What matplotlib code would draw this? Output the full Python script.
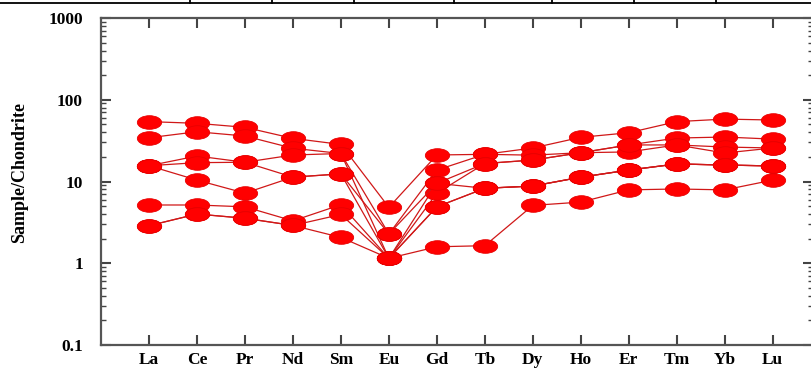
import matplotlib
matplotlib.use("Agg")
import matplotlib.pyplot as plt
from matplotlib.path import Path
from matplotlib.lines import Line2D
from matplotlib.ticker import LogLocator, FixedLocator, NullFormatter, FixedFormatter

# ---------------------------------------------------------------------------
# Data (chondrite-normalised REE)
# ---------------------------------------------------------------------------
elements = ["La", "Ce", "Pr", "Nd", "Sm", "Eu", "Gd",
            "Tb", "Dy", "Ho", "Er", "Tm", "Yb", "Lu"]

s1 = [54, 51.5, 46, 33.7, 28.4, 4.83, 21.1, 21.5, 25.7, 34.7, 39.5, 54, 58, 56.5]
s2 = [34.3, 40.6, 36, 25.5, 22, 2.28, 13.8, 21.5, 21.0, 22.5, 28, 34, 35, 33]
s3 = [15.6, 20.5, 17.2, 21.1, 22, 1.15, 9.5, 16.6, 18.3, 22.5, 23, 28, 26.4, 25.7]
s4 = [15.6, 17.0, 17.2, 11.3, 12.4, 1.15, 7.2, 16.6, 18.3, 22.5, 28, 28, 22.3, 25.7]
s5 = [15.6, 10.4, 7.2, 11.3, 12.4, 2.28, 9.5, 8.26, 8.8, 11.3, 13.8, 16.4, 15.9, 15.5]
s6 = [5.16, 5.16, 4.9, 3.3, 5.2, 1.15, 4.9, 8.26, 8.8, 11.3, 13.8, 16.4, 15.9, 15.5]
s7 = [2.88, 4.0, 3.55, 2.9, 3.95, 1.15, 4.9, 8.26, 8.8, 11.3, 13.8, 16.4, 15.9, 15.5]
s8 = [2.88, 4.0, 3.55, 2.9, 2.07, 1.15, 1.59, 1.64, 5.1, 5.6, 7.9, 8.1, 7.9, 10.4]
samples = [s1, s2, s3, s4, s5, s6, s7, s8]

y_ticks = [0.1, 1, 10, 100, 1000]
y_tick_labels = ["0.1", "1", "10", "100", "1000"]

# ---------------------------------------------------------------------------
# Figure
# ---------------------------------------------------------------------------
W, H = 812, 377
fig = plt.figure(figsize=(W / 100, H / 100), dpi=100)
ax = fig.add_axes([101 / W, 1 - 345 / H, 712.5 / W, 327 / H])

# ellipse marker (wider than tall)
circ = Path.unit_circle()
ellipse = Path(circ.vertices * [1.0, 0.56], circ.codes)

xs = list(range(1, len(elements) + 1))
for s in samples:
    ax.plot(xs, s, color="#d01818", lw=0.9, marker=ellipse, markersize=17.5,
            markerfacecolor="#ff0000", markeredgecolor="#e80000",
            markeredgewidth=0.6)

ax.set_yscale("log")
ax.set_ylim(0.1, 1000)
ax.set_xlim(0, 14.85)

ax.xaxis.set_major_locator(FixedLocator(xs))
ax.set_xticklabels(elements)
ax.yaxis.set_major_locator(FixedLocator(y_ticks))
ax.yaxis.set_major_formatter(FixedFormatter(y_tick_labels))
ax.yaxis.set_minor_locator(LogLocator(base=10, subs=range(2, 10), numticks=20))
ax.yaxis.set_minor_formatter(NullFormatter())

for lab in ax.get_xticklabels() + ax.get_yticklabels():
    lab.set_fontfamily("Liberation Serif")
    lab.set_fontweight("bold")
    lab.set_fontsize(12.5)

ax.tick_params(axis="both", which="major", direction="in", length=7,
               width=1.5, color="#444444", top=True, right=True)
ax.tick_params(axis="y", which="minor", direction="in", length=3.5,
               width=1.0, color="#444444", right=True)
ax.tick_params(axis="x", which="major", pad=5)
ax.tick_params(axis="y", which="major", pad=13)

for sp in ax.spines.values():
    sp.set_color("#555555")
    sp.set_linewidth(1.6)

fig.text(20 / W, 1 - 172 / H, "Sample/Chondrite", rotation=90,
         ha="center", va="center", family="Liberation Serif",
         weight="bold", fontsize=13)

# table border left over above the chart
fig.add_artist(Line2D([0, 1], [1 - 3 / H, 1 - 3 / H], color="black", lw=1.3))
for xd in [190, 272, 354, 454, 552, 634, 716]:
    fig.add_artist(Line2D([xd / W, xd / W], [1 - 3 / H, 1], color="black", lw=1.3))

fig.savefig("out.png", dpi=100)
